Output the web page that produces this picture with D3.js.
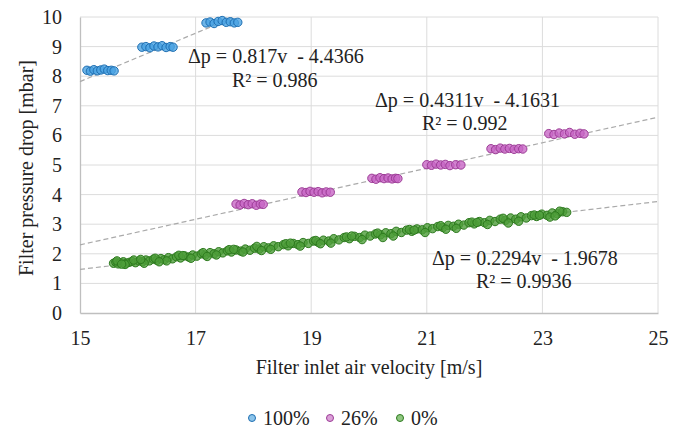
<!DOCTYPE html>
<html>
<head>
<meta charset="utf-8">
<script src="https://cdn.jsdelivr.net/npm/d3@7"></script>
<style>
  body { margin: 0; background: #fff; }
</style>
</head>
<body>
<svg id="chart"></svg>
<script>
var serifFont = "Liberation Serif";

// axis ticks
var xTicks = [15, 17, 19, 21, 23, 25];
var yTicks = [0, 1, 2, 3, 4, 5, 6, 7, 8, 9, 10];

// 100% series (three clusters)
var v100 = [15.12, 15.18, 15.24, 15.30, 15.36, 15.42, 15.48, 15.54, 15.59,
            16.07, 16.14, 16.21, 16.28, 16.35, 16.42, 16.49, 16.56, 16.61,
            17.18, 17.25, 17.32, 17.39, 17.46, 17.53, 17.60, 17.67, 17.73];
var p100 = [8.20, 8.17, 8.22, 8.18, 8.21, 8.24, 8.19, 8.20, 8.18,
            8.98, 9.00, 8.96, 9.02, 8.99, 9.03, 8.97, 9.00, 8.98,
            9.80, 9.83, 9.78, 9.85, 9.88, 9.82, 9.84, 9.80, 9.82];

// 26% series (six clusters)
var v26 = [17.70, 17.77, 17.84, 17.91, 17.98, 18.05, 18.12, 18.17,
           18.84, 18.91, 18.98, 19.05, 19.12, 19.19, 19.26, 19.33,
           20.05, 20.12, 20.19, 20.26, 20.33, 20.40, 20.46, 20.50,
           21.00, 21.08, 21.16, 21.24, 21.32, 21.40, 21.50, 21.59,
           22.11, 22.19, 22.27, 22.35, 22.43, 22.51, 22.59, 22.66,
           23.11, 23.20, 23.29, 23.38, 23.47, 23.56, 23.65, 23.72];
var p26 = [3.68, 3.65, 3.70, 3.66, 3.69, 3.64, 3.68, 3.67,
           4.09, 4.07, 4.11, 4.08, 4.10, 4.06, 4.09, 4.08,
           4.55, 4.52, 4.57, 4.54, 4.56, 4.53, 4.55, 4.54,
           5.01, 4.99, 5.03, 5.00, 5.02, 4.98, 5.01, 5.00,
           5.55, 5.52, 5.57, 5.54, 5.56, 5.53, 5.55, 5.54,
           6.06, 6.03, 6.08, 6.05, 6.10, 6.04, 6.07, 6.05];

// 0% series (continuous band)
var v0 = [15.58, 15.62, 15.66, 15.70, 15.75, 15.80, 15.85, 15.90, 15.96, 16.02,
          16.08, 16.14, 16.20, 16.27, 16.33, 16.40, 16.46, 16.53, 16.60, 16.67,
          16.74, 16.81, 16.88, 16.95, 17.02, 17.10, 17.17, 17.25, 17.32, 17.40,
          17.47, 17.55, 17.62, 17.70, 17.78, 17.86, 17.94, 18.02, 18.10, 18.18,
          18.26, 18.35, 18.43, 18.52, 18.60, 18.69, 18.77, 18.86, 18.95, 19.04,
          19.12, 19.21, 19.30, 19.39, 19.48, 19.57, 19.66, 19.75, 19.84, 19.93,
          20.02, 20.11, 20.20, 20.29, 20.38, 20.47, 20.56, 20.65, 20.74, 20.83,
          20.92, 21.01, 21.10, 21.19, 21.28, 21.37, 21.46, 21.55, 21.64, 21.73,
          21.82, 21.91, 22.00, 22.09, 22.18, 22.27, 22.36, 22.45, 22.54, 22.63,
          22.72, 22.81, 22.90, 22.99, 23.08, 23.17, 23.26, 23.35, 23.42,
          15.64, 15.78, 15.93, 16.11, 16.30, 16.50, 16.71, 16.92, 17.13, 17.36,
          17.58, 17.82, 18.06, 18.30, 18.56, 18.81, 19.08, 19.34, 19.61, 19.88,
          20.15, 20.42, 20.70, 20.97, 21.24, 21.51, 21.78, 22.05, 22.32, 22.59,
          22.86, 23.13, 23.30,
          15.72, 16.05, 16.37, 16.78, 17.20, 17.66, 18.14, 18.64, 19.16, 19.70,
          20.24, 20.78, 21.33, 21.87, 22.41, 22.95, 23.22];
var p0 = [1.68, 1.72, 1.66, 1.70, 1.73, 1.68, 1.71, 1.74, 1.70, 1.76,
          1.73, 1.79, 1.76, 1.82, 1.78, 1.84, 1.80, 1.87, 1.83, 1.90,
          1.86, 1.93, 1.89, 1.96, 1.92, 2.00, 1.96, 2.04, 2.00, 2.07,
          2.03, 2.10, 2.06, 2.13, 2.09, 2.16, 2.12, 2.19, 2.16, 2.24,
          2.20, 2.27, 2.24, 2.31, 2.27, 2.35, 2.31, 2.38, 2.35, 2.43,
          2.39, 2.46, 2.43, 2.51, 2.47, 2.55, 2.51, 2.59, 2.55, 2.63,
          2.60, 2.67, 2.64, 2.71, 2.68, 2.76, 2.72, 2.80, 2.76, 2.84,
          2.81, 2.88, 2.85, 2.92, 2.89, 2.96, 2.93, 3.00, 2.97, 3.05,
          3.01, 3.09, 3.05, 3.13, 3.09, 3.17, 3.13, 3.21, 3.17, 3.25,
          3.21, 3.29, 3.26, 3.34, 3.30, 3.38, 3.35, 3.42, 3.40,
          1.76, 1.64, 1.79, 1.68, 1.85, 1.76, 1.95, 1.85, 2.04, 1.96,
          2.14, 2.06, 2.25, 2.15, 2.34, 2.26, 2.45, 2.36, 2.57, 2.48,
          2.70, 2.60, 2.82, 2.72, 2.95, 2.86, 3.07, 2.99, 3.20, 3.10,
          3.31, 3.24, 3.44,
          1.65, 1.81, 1.73, 1.94, 1.91, 2.15, 2.11, 2.36, 2.34, 2.60,
          2.55, 2.80, 2.83, 3.06, 3.04, 3.30, 3.28];

// trendlines: slope, intercept, x-range
var trends = [
  { slope: 0.817, icpt: -4.4366, x0: 15, x1: 17.67 },
  { slope: 0.4311, icpt: -4.1631, x0: 15, x1: 25 },
  { slope: 0.2294, icpt: -1.9678, x0: 15, x1: 25 }
];

var seriesNames = ["100%", "26%", "0%"];
var strokes = ["#1f6fb2", "#9c3c96", "#2d7a1e"];
var fills = ["#4aa3e2", "#c866c6", "#4d9d3a"];
var legendFills = ["#8cc4ea", "#dba0d8", "#90c781"];

var W = 681, H = 431;
var margin = { left: 80, right: 23, top: 17, bottom: 118 };
var width = W - margin.left - margin.right,
  height = H - margin.top - margin.bottom;

var svg = d3.select("#chart").attr("width", W).attr("height", H);
var g = svg.append("g").attr("transform", `translate(${margin.left},${margin.top})`);

var x = d3.scaleLinear().domain([15, 25]).range([0, width]);
var y = d3.scaleLinear().domain([0, 10]).range([height, 0]);

// gridlines
g.append("g")
  .selectAll("line")
  .data(yTicks.slice(1))
  .enter()
  .append("line")
  .attr("x1", 0).attr("x2", width)
  .attr("y1", (d) => y(d)).attr("y2", (d) => y(d))
  .style("stroke", "#dcdcdc").style("stroke-width", 1);
g.append("g")
  .selectAll("line")
  .data(xTicks.slice(1))
  .enter()
  .append("line")
  .attr("x1", (d) => x(d)).attr("x2", (d) => x(d))
  .attr("y1", 0).attr("y2", height)
  .style("stroke", "#dcdcdc").style("stroke-width", 1);

// axes
var xAxis = g.append("g")
  .attr("transform", `translate(0,${height})`)
  .call(d3.axisBottom(x).tickValues(xTicks).tickSize(0).tickPadding(18));
var yAxis = g.append("g")
  .call(d3.axisLeft(y).tickValues(yTicks).tickSize(0).tickPadding(18));
[xAxis, yAxis].forEach(function (a) {
  a.attr("font-family", serifFont).attr("font-size", 20);
  a.select(".domain").style("stroke", "#bfbfbf").style("stroke-width", 1.3);
  a.selectAll("text").attr("fill", "#222");
});

// trendlines
g.append("g")
  .selectAll("line")
  .data(trends)
  .enter()
  .append("line")
  .attr("x1", (d) => x(d.x0))
  .attr("y1", (d) => y(d.slope * d.x0 + d.icpt))
  .attr("x2", (d) => x(d.x1))
  .attr("y2", (d) => y(d.slope * d.x1 + d.icpt))
  .style("stroke", "#aaaaaa")
  .style("stroke-width", 1.2)
  .style("stroke-dasharray", "5,3");

// points
var series = [
  { v: v100, p: p100 },
  { v: v26, p: p26 },
  { v: v0, p: p0 }
];
series.forEach(function (s, i) {
  g.append("g")
    .selectAll("circle")
    .data(s.v.map((v, j) => [v, s.p[j]]))
    .enter()
    .append("circle")
    .attr("cx", (d) => x(d[0]))
    .attr("cy", (d) => y(d[1]))
    .attr("r", 4.2)
    .style("fill", fills[i])
    .style("fill-opacity", 0.8)
    .style("stroke", strokes[i])
    .style("stroke-width", 1);
});

// equation labels
var eqs = [
  { t1: "\u0394p = 0.817v  - 4.4366", t2: "R\u00b2 = 0.986", x: 188, y: 63, x2: 232, y2: 87 },
  { t1: "\u0394p = 0.4311v  - 4.1631", t2: "R\u00b2 = 0.992", x: 375, y: 107, x2: 422, y2: 130 },
  { t1: "\u0394p = 0.2294v  - 1.9678", t2: "R\u00b2 = 0.9936", x: 432, y: 265, x2: 476, y2: 288 }
];
eqs.forEach(function (e) {
  svg.append("text").attr("x", e.x).attr("y", e.y)
    .attr("font-family", serifFont).attr("font-size", 20).attr("fill", "#222")
    .style("white-space", "pre").text(e.t1);
  svg.append("text").attr("x", e.x2).attr("y", e.y2)
    .attr("font-family", serifFont).attr("font-size", 20).attr("fill", "#222")
    .text(e.t2);
});

// axis titles
svg.append("text")
  .attr("x", margin.left + width / 2)
  .attr("y", 374)
  .attr("text-anchor", "middle")
  .attr("font-family", serifFont).attr("font-size", 20).attr("fill", "#222")
  .text("Filter inlet air velocity [m/s]");
svg.append("text")
  .attr("transform", `translate(33,168) rotate(-90)`)
  .attr("text-anchor", "middle")
  .attr("font-family", serifFont).attr("font-size", 20).attr("fill", "#222")
  .text("Filter pressure drop [mbar]");

// legend
var legendX = [252, 330, 400];
var lg = svg.append("g");
seriesNames.forEach(function (name, i) {
  lg.append("circle")
    .attr("cx", legendX[i]).attr("cy", 418).attr("r", 3.5)
    .style("fill", legendFills[i]).style("stroke", strokes[i]).style("stroke-width", 1);
  lg.append("text")
    .attr("x", legendX[i] + 11).attr("y", 425)
    .attr("font-family", serifFont).attr("font-size", 20).attr("fill", "#222")
    .text(name);
});
</script>
</body>
</html>
